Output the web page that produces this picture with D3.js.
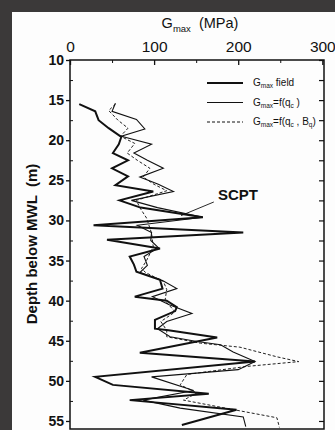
<!DOCTYPE html>
<html>
<head>
<meta charset="utf-8">
<script src="https://cdn.jsdelivr.net/npm/d3@7"></script>
<style>
  html, body { margin: 0; padding: 0; background: #3b3939; }
  svg { display: block; }
  text { font-family: "Liberation Sans", Arial, sans-serif; fill: #111; }
</style>
</head>
<body>
<svg id="chart" width="335" height="430"></svg>
<script>
// Shear modulus profiles versus depth
const fieldDepth = [15.5,16.4,17.5,18.5,19.6,20.5,21.6,22.5,23.5,24.5,25.6,26.4,27.5,28.4,29.6,30.6,31.5,32.4,33.5,34.5,35.5,36.4,37.4,38.5,39.5,40.0,40.8,41.3,42.4,43.5,43.7,44.6,46.5,47.6,49.5,50.5,51.6,52.4,53.6,55.5];
const fieldG     = [11,30,34,46,61,58,51,69,50,69,54,99,59,84,158,28,206,44,107,71,76,79,107,110,77,115,127,125,101,101,117,175,83,220,30,51,165,71,198,133];

const qcDepth = [15.4,16.4,17.4,18.6,19.5,20.5,21.6,22.5,23.5,24.6,25.5,26.4,27.5,28.4,29.6,30.6,31.5,32.5,33.4,34.5,35.6,36.5,37.5,38.5,39.5,40.5,41.6,42.6,43.5,44.5,45.1,45.5,46.4,47.6,48.6,49.5,51.2,52.4,53.4,54.5,55.7];
const qcG     = [54,50,79,89,61,97,76,92,111,83,105,123,73,104,158,80,97,96,105,88,92,83,110,127,98,118,145,115,104,119,151,179,194,220,200,97,147,87,131,206,209];

const bqDepth = [15.5,16.3,17.5,18.5,19.5,20.4,21.6,22.5,23.5,24.6,25.5,26.3,27.5,28.4,29.7,31.6,33.3,35.0,36.0,36.5,37.6,38.6,40.0,41.4,42.6,43.7,44.5,45.3,45.8,47.0,47.6,48.2,49.2,50.5,51.5,52.4,53.4,54.6,55.8];
const bqG     = [54,46,57,69,60,77,68,80,95,87,100,115,79,83,91,97,99,91,85,90,111,115,113,125,108,115,115,155,202,246,272,210,139,131,151,135,185,246,249];

const gTicks = [0,100,200,300];
const gMinorTicks = [50,150,250];
const depthTicks = [10,15,20,25,30,35,40,45,50,55];
const depthMinorTicks = [12.5,17.5,22.5,27.5,32.5,37.5,42.5,47.5,52.5];

const svg = d3.select("#chart");

// paper sheet on the dark backdrop
svg.append("rect").attr("x",12).attr("y",12).attr("width",323).attr("height",418).attr("fill","#fdfdfd");

const x = d3.scaleLinear().domain([0,302]).range([70,324]);
const y = d3.scaleLinear().domain([10,56]).range([60,429]);

const toPts = (ds, gs) => ds.map((d,i) => ({depth:d, g:gs[i]}));
const line = d3.line().x(d => x(d.g)).y(d => y(d.depth));

const plot = svg.append("g");
plot.append("path").datum(toPts(bqDepth,bqG)).attr("d",line)
  .attr("fill","none").attr("stroke","#222").attr("stroke-width",1).attr("stroke-dasharray","3,2");
plot.append("path").datum(toPts(qcDepth,qcG)).attr("d",line)
  .attr("fill","none").attr("stroke","#111").attr("stroke-width",1.1).attr("stroke-linejoin","miter");
plot.append("path").datum(toPts(fieldDepth,fieldG)).attr("d",line)
  .attr("fill","none").attr("stroke","#111").attr("stroke-width",2).attr("stroke-linejoin","miter");

// frame
svg.append("rect").attr("x",x(0)).attr("y",y(10)).attr("width",x(302)-x(0)).attr("height",y(56)-y(10))
  .attr("fill","none").attr("stroke","#111").attr("stroke-width",1.5);

// top axis
const topAxis = svg.append("g").attr("transform",`translate(0,${y(10)})`)
  .call(d3.axisTop(x).tickValues(gTicks).tickSize(-5).tickPadding(8).tickFormat(d3.format("d")));
topAxis.select(".domain").remove();
topAxis.selectAll("line").attr("stroke","#111").attr("stroke-width",1.3);
topAxis.selectAll("text").attr("font-size",15.5).style("font-family","Liberation Sans, Arial, sans-serif").attr("fill","#111");
svg.append("g").attr("transform",`translate(0,${y(10)})`)
  .call(d3.axisTop(x).tickValues(gMinorTicks).tickSize(-3).tickFormat(""))
  .call(g => g.select(".domain").remove())
  .selectAll("line").attr("stroke","#111");

// left axis
const leftAxis = svg.append("g").attr("transform",`translate(${x(0)},0)`)
  .call(d3.axisLeft(y).tickValues(depthTicks).tickSize(4).tickPadding(2).tickFormat(d3.format("d")));
leftAxis.select(".domain").remove();
leftAxis.selectAll("line").attr("stroke","#111").attr("stroke-width",1.3);
leftAxis.selectAll("text").attr("font-size",14).attr("font-weight","bold").style("font-family","Liberation Sans, Arial, sans-serif").attr("fill","#111");
svg.append("g").attr("transform",`translate(${x(0)},0)`)
  .call(d3.axisLeft(y).tickValues(depthMinorTicks).tickSize(-3).tickFormat(""))
  .call(g => g.select(".domain").remove())
  .selectAll("line").attr("stroke","#111");

// right axis, inward ticks
svg.append("g").attr("transform",`translate(${x(302)},0)`)
  .call(d3.axisRight(y).tickValues(depthTicks.concat(depthMinorTicks)).tickSize(-5).tickFormat(""))
  .call(g => g.select(".domain").remove())
  .selectAll("line").attr("stroke","#111").attr("stroke-width",1.2);

// axis titles
const xt = svg.append("text").attr("x",200).attr("y",28).attr("text-anchor","middle").attr("font-size",14.5)
  .style("white-space","pre");
xt.append("tspan").text("G");
xt.append("tspan").attr("font-size",9.5).attr("dy",4).text("max");
xt.append("tspan").attr("dy",-4).text("  (MPa)");

svg.append("text").attr("transform","translate(37,244) rotate(-90)").attr("text-anchor","middle")
  .attr("font-size",15).attr("font-weight","bold").style("white-space","pre")
  .text("Depth below MWL  (m)");

// legend
const legendItems = [
  {w:2, dash:null, sub:"max", main:" field", tail:null},
  {w:1.1, dash:null, sub:"max", main:"=f(q", tail:" )"},
  {w:1, dash:"3,2", sub:"max", main:"=f(q", tail:" , B"}
];
const lg = svg.append("g");
legendItems.forEach((it,i) => {
  const ly = 83 + i*19.5;
  lg.append("line").attr("x1",207).attr("x2",243).attr("y1",ly).attr("y2",ly)
    .attr("stroke","#111").attr("stroke-width",it.w).attr("stroke-dasharray",it.dash);
  const t = lg.append("text").attr("x",253).attr("y",ly+3).attr("font-size",10).style("white-space","pre");
  t.append("tspan").text("G");
  t.append("tspan").attr("font-size",6.5).attr("dy",2).text(it.sub);
  t.append("tspan").attr("dy",-2).text(it.main);
  if (i > 0) {
    t.append("tspan").attr("font-size",6.5).attr("dy",2).text("c");
    t.append("tspan").attr("dy",-2).text(it.tail);
    if (i === 2) {
      t.append("tspan").attr("font-size",6.5).attr("dy",2).text("q");
      t.append("tspan").attr("dy",-2).text(")");
    }
  }
});

// SCPT annotation
svg.append("line").attr("x1",x(132)).attr("y1",y(29.4)).attr("x2",x(171)).attr("y2",y(27.7))
  .attr("stroke","#111").attr("stroke-width",0.9);
svg.append("text").attr("x",x(176)).attr("y",y(27.4)).attr("font-size",15).attr("font-weight","bold").text("SCPT");
</script>
</body>
</html>
